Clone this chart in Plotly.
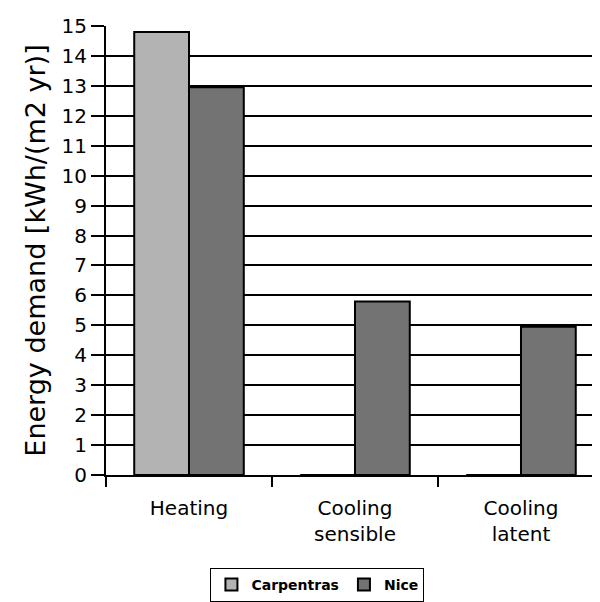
import plotly.graph_objects as go

categories = ["Heating", "Cooling<br>sensible", "Cooling<br>latent"]
carpentras = [14.8, 0, 0]
nice = [12.95, 5.8, 4.95]
y_ticks = list(range(0, 16))

FONT = "DejaVu Sans, Verdana, sans-serif"

fig = go.Figure()
fig.add_trace(go.Bar(x=categories, y=carpentras, name="Carpentras",
                     marker=dict(color="#b3b3b3", line=dict(color="black", width=2))))
fig.add_trace(go.Bar(x=categories, y=nice, name="Nice",
                     marker=dict(color="#737373", line=dict(color="black", width=2))))

fig.update_layout(
    width=592, height=594,
    margin=dict(l=98, r=0, t=18, b=125),
    paper_bgcolor="white", plot_bgcolor="white",
    barmode="group", bargap=0.34, bargroupgap=0,
    font=dict(family=FONT, color="black"),
    showlegend=True,
    legend=dict(orientation="h", x=0.428, xanchor="center", y=-0.208, yanchor="top",
                bordercolor="black", borderwidth=1,
                font=dict(size=14, family=FONT, weight="bold"),
                itemwidth=30, tracegroupgap=0),
)
fig.update_xaxes(range=[-0.5, 2.476], tickson="boundaries", ticks="outside", ticklen=10,
                 tickwidth=2, tickcolor="black", showline=True, linecolor="black", linewidth=2,
                 tickfont=dict(size=20), showgrid=False, automargin=False,
                 ticklabelstandoff=14)
fig.update_yaxes(range=[0, 15], tickvals=y_ticks, ticks="outside", ticklen=13, tickwidth=2,
                 tickcolor="black", showline=True, linecolor="black", linewidth=2,
                 showgrid=True, gridcolor="black", gridwidth=2, tickfont=dict(size=20),
                 title=dict(text="Energy demand [kWh/(m2 yr)]", font=dict(size=27), standoff=8),
                 zeroline=False, automargin=False)

fig.write_html("out.html")
